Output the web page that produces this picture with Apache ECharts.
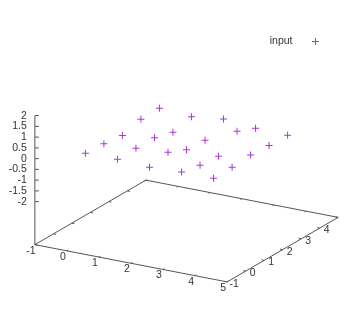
<!DOCTYPE html>
<html>
<head>
<meta charset="utf-8">
<script src="https://cdn.jsdelivr.net/npm/echarts@6/dist/echarts.min.js"></script>
<style>
  html, body { margin: 0; background: #fff; }
  #chart { width: 340px; height: 326px; }
</style>
</head>
<body>
<div id="chart"></div>
<script>
// axis tick values
const xTicks = [-1, 0, 1, 2, 3, 4, 5];
const yTicks = [-1, 0, 1, 2, 3, 4, 5];
const zTicks = [-2, -1.5, -1, -0.5, 0, 0.5, 1, 1.5, 2];

// the "input" points (x, y, z)
const ptX = [0, 0, 0, 0, 0, 1, 1, 1, 1, 1, 2, 2, 2, 2, 2, 3, 3, 3, 3, 3, 4, 4, 4, 4, 4];
const ptY = [0, 1, 2, 3, 4, 0, 1, 2, 3, 4, 0, 1, 2, 3, 4, 0, 1, 2, 3, 4, 0, 1, 2, 3, 4];
const ptZ = [0.04, -0.02, -0.14, 0.12, 0.13,
             0.05, 0.06, 0.05, -0.2, 0.03,
             -0.04, 0.16, -0.22, -0.28, 0.21,
             0.03, -0.15, -0.24, 0.43, 0.07,
             0.03, 0.04, 0.11, 0.05, 0.03];

// gnuplot-like view: rot_x 60, rot_z 30, ticslevel 0.5
const xMin = -1, xMax = 5, yMin = -1, yMax = 5, zMin = -2, zMax = 2;
const zBase = zMin - 0.5 * (zMax - zMin);
const rx = 60 * Math.PI / 180, rz = 30 * Math.PI / 180;

function project(x, y, z) {
  const xn = (x - xMin) / (xMax - xMin) - 0.5;
  const yn = (y - yMin) / (yMax - yMin) - 0.5;
  const zn = (z - zBase) / (zMax - zBase) - 0.5;
  const u = xn * Math.cos(rz) + yn * Math.sin(rz);
  const v = (-xn * Math.sin(rz) + yn * Math.cos(rz)) * Math.cos(rx) + zn * Math.sin(rx);
  return [u, v];
}

// frame: base box, vertical z axis, tic marks
const tl = 0.08;
const segs = [];
function seg(a, b) { segs.push(a.concat(b)); }
seg(project(xMin, yMin, zBase), project(xMax, yMin, zBase));
seg(project(xMax, yMin, zBase), project(xMax, yMax, zBase));
seg(project(xMax, yMax, zBase), project(xMin, yMax, zBase));
seg(project(xMin, yMax, zBase), project(xMin, yMin, zBase));
seg(project(xMin, yMin, zBase), project(xMin, yMin, zMax));
xTicks.forEach(x => {
  seg(project(x, yMin, zBase), project(x, yMin + tl, zBase));
  seg(project(x, yMax, zBase), project(x, yMax - tl, zBase));
});
yTicks.forEach(y => {
  seg(project(xMax, y, zBase), project(xMax - tl, y, zBase));
  seg(project(xMin, y, zBase), project(xMin + tl, y, zBase));
});

const zTickPts = zTicks.map(z => project(xMin, yMin, z));

const labels = [];
xTicks.forEach(x => labels.push({ p: project(x, yMin, zBase), t: String(x), dx: -4, dy: 6, align: 'center' }));
yTicks.forEach(y => labels.push({ p: project(xMax, y, zBase), t: String(y), dx: 7, dy: 2, align: 'center' }));
zTicks.forEach(z => labels.push({ p: project(xMin, yMin, z), t: String(z), dx: -8, dy: 0, align: 'right' }));

const font = '10.5px "Liberation Sans", Arial, sans-serif';
const axisColor = '#555';
const plus = 'path://M3,0h1v3h3v1h-3v3h-1v-3h-3v-1h3z';

// projected plane fitted to the 340x326 canvas
const cx = 186.5, cy = 166.5, sx = 222, sy = 149;

const chart = echarts.init(document.getElementById('chart'), null, { renderer: 'canvas' });
chart.setOption({
  animation: false,
  grid: { left: 0, right: 0, top: 0, bottom: 0 },
  xAxis: { type: 'value', show: false, min: -cx / sx, max: (340 - cx) / sx },
  yAxis: { type: 'value', show: false, min: -(326 - cy) / sy, max: cy / sy },
  legend: {
    data: ['input'],
    right: 21,
    top: 36,
    padding: 0,
    align: 'right',
    icon: plus,
    itemWidth: 36,
    itemHeight: 7,
    textStyle: { fontFamily: '"Liberation Sans", Arial, sans-serif', fontSize: 10.5, color: '#333' },
  },
  series: [
    {
      type: 'custom',
      silent: true,
      data: segs,
      renderItem: (params, api) => {
        const a = api.coord([api.value(0), api.value(1)]);
        const b = api.coord([api.value(2), api.value(3)]);
        return {
          type: 'line',
          shape: { x1: a[0], y1: a[1], x2: b[0], y2: b[1] },
          style: { stroke: axisColor, lineWidth: 1 },
        };
      },
    },
    {
      type: 'custom',
      silent: true,
      data: zTickPts,
      renderItem: (params, api) => {
        const a = api.coord([api.value(0), api.value(1)]);
        return {
          type: 'line',
          shape: { x1: a[0], y1: a[1], x2: a[0] + 4, y2: a[1] },
          style: { stroke: axisColor, lineWidth: 1 },
        };
      },
    },
    {
      type: 'custom',
      silent: true,
      data: labels.map(l => l.p),
      renderItem: (params, api) => {
        const l = labels[params.dataIndex];
        const a = api.coord([api.value(0), api.value(1)]);
        return {
          type: 'text',
          x: a[0] + l.dx,
          y: a[1] + l.dy,
          style: { text: l.t, fill: '#333', font: font, align: l.align, verticalAlign: 'middle' },
        };
      },
    },
    {
      name: 'input',
      type: 'scatter',
      symbol: plus,
      symbolSize: 7,
      itemStyle: { color: '#9400d3' },
      data: ptX.map((x, i) => project(x, ptY[i], ptZ[i])),
    },
  ],
});
</script>
</body>
</html>
